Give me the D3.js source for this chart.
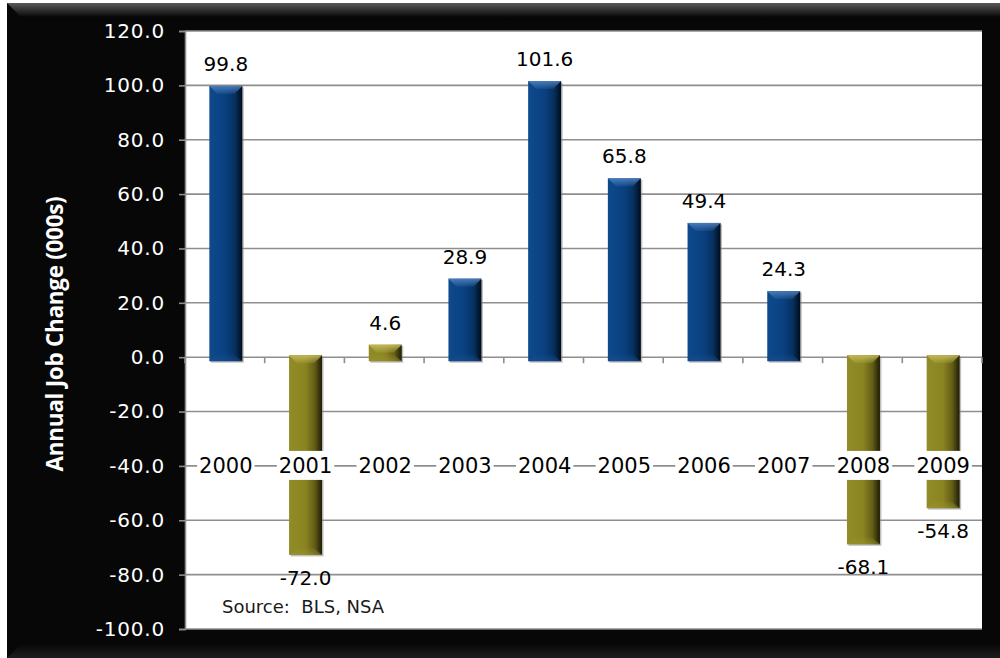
<!DOCTYPE html>
<html>
<head>
<meta charset="utf-8">
<script src="https://cdn.jsdelivr.net/npm/d3@7/dist/d3.min.js"></script>
<style>
  html, body { margin: 0; padding: 0; background: #ffffff; }
  svg { display: block; }
</style>
</head>
<body>
<svg id="chart" width="1000" height="658"></svg>
<script>
// Annual job change by year (thousands of jobs)
const years = ["2000", "2001", "2002", "2003", "2004", "2005", "2006", "2007", "2008", "2009"];
const jobChange = [99.8, -72.0, 4.6, 28.9, 101.6, 65.8, 49.4, 24.3, -68.1, -54.8];
const barTone = ["blue", "gold", "gold", "blue", "blue", "blue", "blue", "blue", "gold", "gold"];
const yTickValues = [-100, -80, -60, -40, -20, 0, 20, 40, 60, 80, 100, 120];
const yTitle = "Annual Job Change (000s)";
const sourceNote = "Source:\u00a0\u00a0BLS, NSA";

const svg = d3.select("#chart");
const W = 1000, H = 658;
const plot = { left: 185, right: 982, top: 31, bottom: 629 };

// One decimal, plain hyphen for negatives
const fmt = d => d3.format(".1f")(d).replace("\u2212", "-");

const defs = svg.append("defs");

// Frame gradients
const topBevel = defs.append("linearGradient").attr("id", "topBevel")
  .attr("x1", 0).attr("y1", 0).attr("x2", 0).attr("y2", 1);
topBevel.append("stop").attr("offset", 0).attr("stop-color", "#5a5a5a");
topBevel.append("stop").attr("offset", 1).attr("stop-color", "#070707");
const botBevel = defs.append("linearGradient").attr("id", "botBevel")
  .attr("x1", 0).attr("y1", 0).attr("x2", 0).attr("y2", 1);
botBevel.append("stop").attr("offset", 0).attr("stop-color", "#070707");
botBevel.append("stop").attr("offset", 1).attr("stop-color", "#1e1e1e");

// Bar body gradients
const tones = {
  blue: { stops: [["0", "#0e4a8c"], ["0.5", "#0a4080"], ["0.78", "#06305e"], ["1", "#010c1a"]], cap: "#4d7fbd", base: "#1a4f8c" },
  gold: { stops: [["0", "#928c28"], ["0.5", "#8a8321"], ["0.78", "#625c16"], ["1", "#1f1c04"]], cap: "#c4bc58", base: "#9a9330" }
};
Object.entries(tones).forEach(([k, t]) => {
  const g = defs.append("linearGradient").attr("id", "body-" + k)
    .attr("x1", 0).attr("y1", 0).attr("x2", 1).attr("y2", 0);
  t.stops.forEach(s => g.append("stop").attr("offset", s[0]).attr("stop-color", s[1]));
  const c = defs.append("linearGradient").attr("id", "cap-" + k)
    .attr("x1", 0).attr("y1", 0).attr("x2", 0).attr("y2", 1);
  c.append("stop").attr("offset", 0).attr("stop-color", t.cap).attr("stop-opacity", 0.95);
  c.append("stop").attr("offset", 1).attr("stop-color", t.cap).attr("stop-opacity", 0.15);
  const b = defs.append("linearGradient").attr("id", "base-" + k)
    .attr("x1", 0).attr("y1", 0).attr("x2", 0).attr("y2", 1);
  b.append("stop").attr("offset", 0).attr("stop-color", t.base).attr("stop-opacity", 0.1);
  b.append("stop").attr("offset", 1).attr("stop-color", t.base).attr("stop-opacity", 0.6);
});

// Black frame with bevelled top and bottom edges
svg.append("rect").attr("x", 7).attr("y", 3).attr("width", W - 7).attr("height", H - 3).attr("fill", "#070707");
svg.append("polygon")
  .attr("points", [[7, 3], [W, 3], [W, 17], [21, 17]].map(p => p.join(",")).join(" "))
  .attr("fill", "url(#topBevel)");
svg.append("polygon")
  .attr("points", [[21, 644], [W, 644], [W, H], [7, H]].map(p => p.join(",")).join(" "))
  .attr("fill", "url(#botBevel)");

// Scales
const x = d3.scaleBand().domain(years).range([plot.left, plot.right]).paddingInner(0).paddingOuter(0);
const y = d3.scaleLinear().domain([-100, 120]).range([plot.bottom, plot.top]);

// Plot area
svg.append("rect")
  .attr("x", plot.left).attr("y", plot.top)
  .attr("width", plot.right - plot.left).attr("height", plot.bottom - plot.top)
  .attr("fill", "#ffffff");

// Horizontal gridlines
svg.append("g")
  .selectAll("line").data(yTickValues).join("line")
  .attr("x1", plot.left).attr("x2", plot.right)
  .attr("y1", d => y(d)).attr("y2", d => y(d))
  .attr("stroke", "#8e8e8e").attr("stroke-width", 1.6);

// Value axis
const yAxis = d3.axisLeft(y).tickValues(yTickValues).tickSize(6).tickPadding(14)
  .tickFormat(fmt);
const gy = svg.append("g").attr("transform", `translate(${plot.left},0)`).call(yAxis);
gy.select(".domain").attr("stroke", "#8e8e8e").attr("stroke-width", 1.6);
gy.selectAll(".tick line").attr("stroke", "#8e8e8e").attr("stroke-width", 1.6);
gy.selectAll(".tick text")
  .attr("fill", "#ffffff")
  .style("font-family", "'DejaVu Sans', sans-serif")
  .style("font-size", "20px")
  .style("letter-spacing", "0.8px");

// Category tick marks along the zero line
const catEdges = years.map(d => x(d)).concat([x(years[years.length - 1]) + x.bandwidth()]);
svg.append("g").selectAll("line").data(catEdges).join("line")
  .attr("x1", d => d).attr("x2", d => d)
  .attr("y1", y(0)).attr("y2", y(0) + 6)
  .attr("stroke", "#8e8e8e").attr("stroke-width", 1.6);

// Bars
const barW = 33;
const data = years.map((yr, i) => ({ year: yr, value: jobChange[i], tone: barTone[i] }));
const bars = svg.append("g").selectAll("g").data(data).join("g")
  .attr("transform", d => `translate(${x(d.year) + x.bandwidth() / 2 - barW / 2 + 1},0)`);

function barTop(d) { return d.value >= 0 ? y(d.value) : y(0) - 2; }
function barBottom(d) { return d.value >= 0 ? y(0) + 4 : y(d.value) + 2; }

bars.append("rect")
  .attr("x", 1.5).attr("y", d => barTop(d) + 1.5)
  .attr("width", barW).attr("height", d => barBottom(d) - barTop(d))
  .attr("fill", "#8a8a8a").attr("opacity", 0.55);
bars.append("rect")
  .attr("x", 0).attr("y", barTop)
  .attr("width", barW).attr("height", d => barBottom(d) - barTop(d))
  .attr("fill", d => `url(#body-${d.tone})`);
bars.append("polygon")
  .attr("points", d => {
    const t = barTop(d), h = Math.min(8, (barBottom(d) - t) / 2);
    return [[0, t], [barW, t], [barW - 8, t + h], [8, t + h]].map(p => p.join(",")).join(" ");
  })
  .attr("fill", d => `url(#cap-${d.tone})`);
bars.append("polygon")
  .attr("points", d => {
    const b = barBottom(d), h = Math.min(7, (b - barTop(d)) / 2);
    return [[8, b - h], [barW - 8, b - h], [barW, b], [0, b]].map(p => p.join(",")).join(" ");
  })
  .attr("fill", d => `url(#base-${d.tone})`);

// Category labels sit on the -40 gridline with a white backing
const catG = svg.append("g");
const catLabels = catG.selectAll("g").data(years).join("g");
catLabels.append("rect").attr("class", "bg");
catLabels.append("text")
  .attr("x", d => x(d) + x.bandwidth() / 2 + 1)
  .attr("y", y(-40) + 7.5)
  .attr("text-anchor", "middle")
  .attr("fill", "#000000")
  .style("font-family", "'DejaVu Sans', sans-serif")
  .style("font-size", "21px")
  .text(d => d);
catLabels.each(function () {
  const t = d3.select(this).select("text").node().getBBox();
  d3.select(this).select("rect.bg")
    .attr("x", t.x - 2).attr("y", y(-40) - 15)
    .attr("width", t.width + 4).attr("height", 29)
    .attr("fill", "#ffffff");
});

// Value labels
svg.append("g").selectAll("text").data(data).join("text")
  .attr("x", d => x(d.year) + x.bandwidth() / 2 + 1)
  .attr("y", d => d.value >= 0 ? y(d.value) - 15 : y(d.value) + 32)
  .attr("text-anchor", "middle")
  .attr("fill", "#000000")
  .style("font-family", "'DejaVu Sans', sans-serif")
  .style("font-size", "20px")
  .text(d => fmt(d.value));

// Source note
svg.append("text")
  .attr("x", 222).attr("y", 613)
  .attr("fill", "#1a1a1a")
  .style("font-family", "'DejaVu Sans', sans-serif")
  .style("font-size", "18px")
  .text(sourceNote);

// Value axis title
svg.append("text")
  .attr("transform", `translate(63,${(plot.top + plot.bottom) / 2 + 4}) rotate(-90)`)
  .attr("text-anchor", "middle")
  .attr("fill", "#ffffff")
  .style("font-family", "'Open Sans', sans-serif")
  .style("font-weight", "bold")
  .style("font-size", "22.5px")
  .style("letter-spacing", "-0.3px")
  .text(yTitle);
</script>
</body>
</html>
